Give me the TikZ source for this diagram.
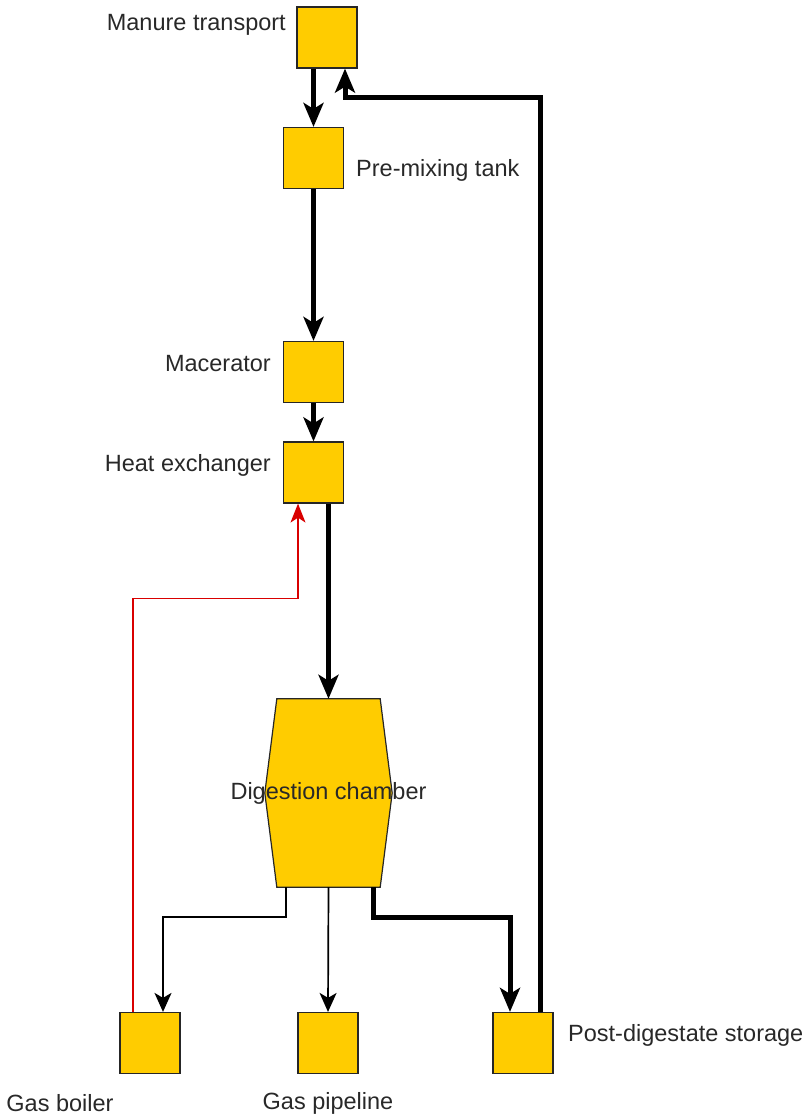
\documentclass[tikz,border=0pt]{standalone}
\usepackage{fontspec}
\setmainfont{Liberation Sans}
\usepackage{tikz}
\usetikzlibrary{calc,positioning,arrows.meta}
\definecolor{boxyellow}{RGB}{255,204,0}
\definecolor{labelgray}{RGB}{40,40,40}

\begin{document}
\begin{tikzpicture}[x=1pt, y=-1pt,
	unit/.style={draw=black!85, fill=boxyellow, line width=1.2pt, minimum width=60pt, minimum height=61pt, inner sep=0pt},
	lbl/.style={text=labelgray, font=\fontsize{23.5}{28}\selectfont, inner sep=0pt},
	heavy/.style={line width=5pt, -{Stealth[length=24pt,width=20pt,inset=6pt]}},
	light/.style={line width=1.7pt, -{Stealth[length=19pt,width=17pt,inset=5pt]}},
	heat/.style={red!85!black, line width=1.3pt, -{Stealth[length=19pt,width=15pt,inset=5pt]}}]

					\useasboundingbox (0, 0) rectangle (811, 1117);

					% process units
					\node[unit] at (327, 37.5) (manure) {};
					\node[unit] at (313.5, 158) (premix) {};
					\node[unit] at (313.5, 372) (macerator) {};
					\node[unit] at (313.5, 472.5) (heatex) {};
					\node[inner sep=0pt, minimum width=103pt, minimum height=188pt] at (328.5, 793) (digester) {};
					\node[unit] at (150, 1043) (boiler) {};
					\node[unit] at (328, 1043) (pipeline) {};
					\node[unit] at (523, 1043) (storage) {};

					\draw[draw=black!85, fill=boxyellow, line width=1.2pt] (digester.north west) -- (digester.north east) -- ($(digester.east) + (12, 0)$) -- (digester.south east) -- (digester.south west) -- ($(digester.west) + (-12, 0)$) -- cycle;
					\node[lbl] at (digester) (digesterlbl) {Digestion chamber};

					% labels
					\node[lbl, anchor=east] at (286, 25) (manurelbl) {Manure transport};
					\node[lbl, anchor=west] at (356, 170) (premixlbl) {Pre-mixing tank};
					\node[lbl, anchor=east] at (271, 364) (maceratorlbl) {Macerator};
					\node[lbl, anchor=east] at (271, 465) (heatexlbl) {Heat exchanger};
					\node[lbl] at (60, 1103) (boilerlbl) {Gas boiler};
					\node[lbl] at (328, 1103) (pipelinelbl) {Gas pipeline};
					\node[lbl, anchor=west] at (568, 1035) (storagelbl) {Post-digestate storage};

					% main slurry line
					\draw[heavy] (manure.south -| premix.north) -- (premix.north);
					\draw[heavy] (premix.south) -- (macerator.north);
					\draw[heavy] (macerator.south) -- (heatex.north);
					\draw[heavy] (heatex.south -| digester.north) -- (digester.north);

					% outlets of the chamber
					\coordinate (boilerin) at ($(boiler.north) + (13, 0)$);
					\coordinate (storagein) at ($(storage.north) + (-13, 0)$);
					\draw[light] ($(digester.south) + (-42.5, 0)$) -- ++(0, 30) -| (boilerin);
					\draw[light] (digester.south) -- (pipeline.north);
					\draw[heavy] ($(digester.south) + (44.5, 0)$) -- ++(0, 30) -| (storagein);

					% return to transport
					\coordinate (manurein) at ($(manure.south) + (18, 0)$);
					\draw[heavy] ($(storage.north) + (17, 0)$) |- ($(manurein) + (0, 29)$) -- (manurein);

					% heat from boiler
					\coordinate (heatin) at ($(heatex.south) + (-15.5, 0)$);
					\draw[heat] ($(boiler.north) + (-17, 0)$) |- ($(heatin) + (0, 95)$) -- (heatin);
				\end{tikzpicture}
\end{document}
